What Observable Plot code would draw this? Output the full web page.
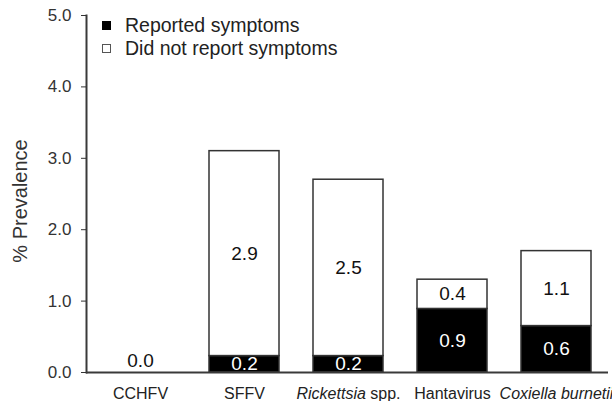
<!DOCTYPE html>
<html>
<head>
<meta charset="utf-8">
<script src="https://cdn.jsdelivr.net/npm/d3@7"></script>
<script src="https://cdn.jsdelivr.net/npm/@observablehq/plot@0.6"></script>
<style>
  html, body { margin: 0; padding: 0; background: #fff; }
  #wrap { position: relative; width: 612px; height: 401px; font-family: "Liberation Sans", Arial, sans-serif; }
  #legend { position: absolute; left: 102px; top: 13.5px; color: #222; font-size: 19.5px; }
  .item { display: flex; align-items: center; height: 23px; white-space: nowrap; }
  .sw { width: 9px; height: 9px; box-sizing: border-box; margin-right: 14px; }
</style>
</head>
<body>
<div id="wrap"><div id="legend"></div></div>
<script>
// ---- data ----
const categories = ["CCHFV", "SFFV", "Rickettsia spp.", "Hantavirus", "Coxiella burnetii"];
const italicParts = ["", "", "Rickettsia", "", "Coxiella burnetii"];
const groups = ["Reported symptoms", "Did not report symptoms"];
const groupColors = ["#000000", "#ffffff"];
const reported = [0, 0.23, 0.23, 0.89, 0.65];
const notReported = [0, 2.87, 2.47, 0.41, 1.05];
const reportedLabels = ["0.0", "0.2", "0.2", "0.9", "0.6"];
const notReportedLabels = ["0.0", "2.9", "2.5", "0.4", "1.1"];
const yTicks = [0, 1, 2, 3, 4, 5];
const yTitle = "% Prevalence";

// ---- table ----
const rows = [];
categories.forEach((c, i) => {
  rows.push({category: c, group: groups[0], value: reported[i], label: reportedLabels[i]});
  rows.push({category: c, group: groups[1], value: notReported[i], label: notReportedLabels[i]});
});
const zeroRows = categories
  .map((c, i) => ({category: c, total: reported[i] + notReported[i], label: reportedLabels[i]}))
  .filter(d => d.total === 0);

const font = "'Liberation Sans', Arial, sans-serif";

const chart = Plot.plot({
  width: 612,
  height: 401,
  marginLeft: 86,
  marginRight: 4,
  marginTop: 15,
  marginBottom: 29,
  style: {fontFamily: font, background: "transparent", color: "#333", overflow: "visible"},
  x: {domain: categories, paddingInner: 0.331, paddingOuter: 0.16, align: 0.52, label: null},
  y: {domain: [0, 5], label: null},
  color: {domain: groups, range: groupColors},
  marks: [
    Plot.barY(rows, {x: "category", y: "value", fill: "group", stroke: "#333", strokeWidth: 1.5}),
    Plot.text(rows, Plot.stackY({
      x: "category", y: "value",
      text: d => (d.group === groups[0] && d.value > 0 ? d.label : null),
      fill: "white", fontSize: 19
    })),
    Plot.text(rows, Plot.stackY({
      x: "category", y: "value",
      text: d => (d.group === groups[1] && d.value > 0 ? d.label : null),
      fill: "#111", fontSize: 19
    })),
    Plot.text(zeroRows, {x: "category", y: () => 0, text: "label", lineAnchor: "bottom", dy: -6, fontSize: 19, fill: "#111"}),
    Plot.ruleY([0], {stroke: "#3a3a3a", strokeWidth: 2}),
    Plot.frame({anchor: "left", stroke: "#3a3a3a", strokeWidth: 2}),
    Plot.axisY({ticks: yTicks, tickFormat: d3.format(".1f"), tickSize: 5, tickPadding: 10, fontSize: 17, label: null, color: "#333"}),
    Plot.axisX({tickSize: 0, tickPadding: 15, fontSize: 16, label: null, color: "#222"}),
    Plot.text([yTitle], {frameAnchor: "left", textAnchor: "middle", rotate: -90, dx: -66, dy: 7, fontSize: 20, fill: "#333", text: d => d})
  ]
});

// italic parts of the x tick labels
d3.select(chart).selectAll('g[aria-label="x-axis tick label"] text').each(function () {
  const t = this.textContent;
  const i = categories.indexOf(t);
  if (i < 0 || !italicParts[i]) return;
  const it = italicParts[i];
  const sel = d3.select(this);
  sel.text(null);
  sel.append("tspan").attr("font-style", "italic").text(it);
  const rest = t.slice(it.length);
  if (rest) sel.append("tspan").text(rest);
});

const wrap = document.getElementById("wrap");
wrap.insertBefore(chart, wrap.firstChild);
chart.style.position = "absolute";
chart.style.left = "0";
chart.style.top = "0";

// legend
const legend = d3.select("#legend");
groups.forEach((g, i) => {
  const item = legend.append("div").attr("class", "item");
  item.append("div").attr("class", "sw")
    .style("background", groupColors[i])
    .style("border", "1.3px solid " + (i === 0 ? "#000" : "#555"));
  item.append("span").text(g);
});
</script>
</body>
</html>
